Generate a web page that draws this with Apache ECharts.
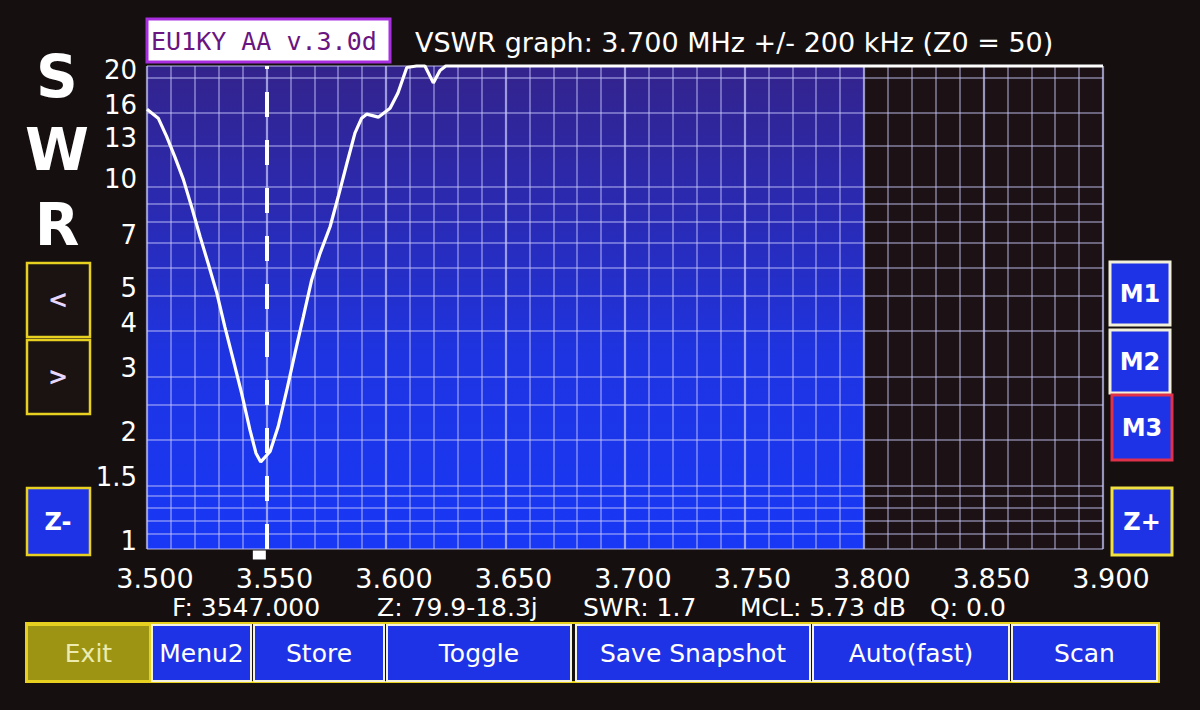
<!DOCTYPE html>
<html><head><meta charset="utf-8">
<script src="https://cdn.jsdelivr.net/npm/echarts@6/dist/echarts.min.js"></script>
<style>html,body{margin:0;padding:0;background:#150f10;}#c{width:1200px;height:710px;}</style>
</head><body><div id="c"></div>
<script>
// ---- data ----
const FREQ = [3.5000,3.5047,3.5082,3.5117,3.5152,3.5187,3.5222,3.5256,3.5292,3.5326,3.5361,3.5396,3.5431,3.5456,3.5476,3.5515,3.5549,3.5585,3.5619,3.5654,3.5689,3.5724,3.5766,3.5800,3.5836,3.5870,3.5898,3.5919,3.5968,3.6017,3.6050,3.6087,3.6128,3.6163,3.6198,3.6226,3.6250,3.9000];
const SWR  = [16.4,15.5,13.8,12.1,10.5,8.8,7.3,6.15,5.1,4.1,3.33,2.69,2.13,1.84,1.74,1.86,2.18,2.75,3.47,4.38,5.54,6.56,7.77,9.4,11.6,14.1,15.5,15.9,15.6,16.5,18.2,21.4,21.6,21.6,19.4,21.0,21.6,21.6];
const SWR_LABELS = [1,1.5,2,3,4,5,7,10,13,16,20];
const SWR_GRID = [1,1.1,1.2,1.3,1.4,1.5,2,2.5,3,4,5,6,7,8,9,10,13,16,20,21.6];
const SWR_TOP = 21.6;
const F_MIN = 3.5, F_MAX = 3.9, F_STEP = 0.05;
const BAND = [3.5, 3.8];
const MARKER_F = 3.547;
const TITLE = 'VSWR graph: 3.700 MHz +/- 200 kHz (Z0 = 50)';
const VERSION = 'EU1KY AA v.3.0d';
const INFO = [['F: 3547.000',172],['Z: 79.9-18.3j',377],['SWR: 1.7',583],['MCL: 5.73 dB',740],['Q: 0.0',930]];
const BOTTOM_BTNS = [['Exit',27,150],['Menu2',152,251],['Store',254,384],['Toggle',387,571],['Save Snapshot',576,810],['Auto(fast)',813,1009],['Scan',1012,1157]];
const RIGHT_BTNS = [['M1',1110,262,325,'#f2f0d8'],['M2',1110,330,393,'#f2f0d8'],['M3',1112,395,460,'#e0304a'],['Z+',1112,488,555,'#f0e040']];

const lg = v => Math.log10(v);
const data = FREQ.map((f,i)=>[f, lg(SWR[i])]);
const FONT = '"DejaVu Sans", sans-serif';

const g = [];
// SWR letters
[['S',77],['W',150],['R',225]].forEach(([t,y])=>g.push({type:'text',x:57,y:y,z:10,style:{text:t,fill:'#ffffff',font:'bold 58px '+FONT,align:'center',verticalAlign:'middle'}}));
// version box
g.push({type:'rect',shape:{x:147,y:19,width:243,height:43},z:10,style:{fill:'#ffffff',stroke:'#a82ee0',lineWidth:3}});
g.push({type:'text',x:151,y:41,z:11,style:{text:VERSION,fill:'#6a1580',font:'25px "DejaVu Sans Mono", monospace',align:'left',verticalAlign:'middle'}});
g.push({type:'text',x:415,y:42,z:10,style:{text:TITLE,fill:'#ffffff',font:'27px '+FONT,align:'left',verticalAlign:'middle'}});
// left buttons
[['<',263,337,'#1a1312','#e8d8ff'],['>',340,414,'#1a1312','#e8d8ff'],['Z-',488,555,'#1f33e6','#ffffff']].forEach(([t,y1,y2,fill,tc])=>{
  g.push({type:'rect',shape:{x:27,y:y1,width:63,height:y2-y1},z:10,style:{fill:fill,stroke:'#e8d020',lineWidth:2.5}});
  g.push({type:'text',x:58,y:(y1+y2)/2,z:11,style:{text:t,fill:tc,font:'bold 24px '+FONT,align:'center',verticalAlign:'middle'}});
});
// right buttons
RIGHT_BTNS.forEach(([t,x1,y1,y2,stroke])=>{
  g.push({type:'rect',shape:{x:x1,y:y1,width:60,height:y2-y1},z:10,style:{fill:'#1f33e6',stroke:stroke,lineWidth:3}});
  g.push({type:'text',x:x1+30,y:(y1+y2)/2,z:11,style:{text:t,fill:'#ffffff',font:'bold 24px '+FONT,align:'center',verticalAlign:'middle'}});
});
// info line
INFO.forEach(([t,x])=>g.push({type:'text',x:x,y:607,z:10,style:{text:t,fill:'#ffffff',font:'25px '+FONT,lineHeight:22,align:'left',verticalAlign:'middle'}}));
// bottom buttons
g.push({type:'rect',shape:{x:26,y:623,width:1133,height:59},z:9,style:{fill:'none',stroke:'#e8d020',lineWidth:2}});
BOTTOM_BTNS.forEach(([t,x1,x2],i)=>{
  const exit = i===0;
  g.push({type:'rect',shape:{x:x1,y:625,width:x2-x1,height:56},z:10,style:{fill:exit?'#9c9412':'#1f33e6',stroke:exit?'#e8d020':'#f4f2e0',lineWidth:2}});
  g.push({type:'text',x:(x1+x2)/2,y:653,z:11,style:{text:t,fill:exit?'#ecebb0':'#ffffff',font:'25px '+FONT,align:'center',verticalAlign:'middle'}});
});

const chart = echarts.init(document.getElementById('c'), null, {renderer:'svg'});
chart.setOption({
  backgroundColor:'#150f10',
  animation:false,
  grid:{left:147,right:97,top:66,bottom:161,show:true,backgroundColor:'#1c1216',borderWidth:0},
  xAxis:{type:'value',min:F_MIN,max:F_MAX,interval:F_STEP,z:3,
    axisLine:{show:false},axisTick:{show:false},
    axisLabel:{color:'#ffffff',fontSize:27,fontFamily:FONT,lineHeight:24,margin:17,padding:[0,0,0,16],formatter:v=>v.toFixed(3)},
    splitLine:{show:true,lineStyle:{color:'rgba(200,200,250,0.72)',width:2.2}},
    minorTick:{show:false,splitNumber:5},
    minorSplitLine:{show:true,lineStyle:{color:'rgba(200,200,250,0.6)',width:1.5}}
  },
  yAxis:{type:'value',min:0,max:lg(SWR_TOP),z:3,
    axisLine:{show:false},
    axisTick:{show:false,customValues:SWR_GRID.map(lg)},
    axisLabel:{color:'#ffffff',fontSize:26,fontFamily:FONT,margin:10,verticalAlign:'bottom',lineHeight:16,
      customValues:SWR_LABELS.map(lg),
      formatter:v=>{let best=SWR_LABELS[0];SWR_LABELS.forEach(s=>{if(Math.abs(lg(s)-v)<Math.abs(lg(best)-v))best=s;});return String(best);}},
    splitLine:{show:true,lineStyle:{color:'rgba(200,200,250,0.6)',width:1.5}}
  },
  series:[
    {type:'line',z:1,data:data,silent:true,showSymbol:false,lineStyle:{opacity:0},
      markArea:{silent:true,itemStyle:{color:new echarts.graphic.LinearGradient(0,0,0,1,[
        {offset:0,color:'#33238c'},{offset:0.3,color:'#2a2ab2'},{offset:0.6,color:'#1e34e2'},{offset:1,color:'#1838f6'}])},
        data:[[{xAxis:BAND[0]},{xAxis:BAND[1]}]]}},
    {type:'line',z:5,data:data,showSymbol:false,smooth:false,clip:false,
      lineStyle:{color:'#ffffff',width:3.2},
      markLine:{silent:true,symbol:'none',label:{show:false},lineStyle:{color:'#ffffff',width:4,type:[25,23]},data:[{xAxis:MARKER_F}]},
      markPoint:{silent:true,symbol:'rect',symbolSize:[13,9],symbolOffset:[0,6],itemStyle:{color:'#ffffff'},label:{show:false},data:[{coord:[MARKER_F,0]}]}
    }
  ],
  graphic:{elements:g}
});
</script></body></html>
